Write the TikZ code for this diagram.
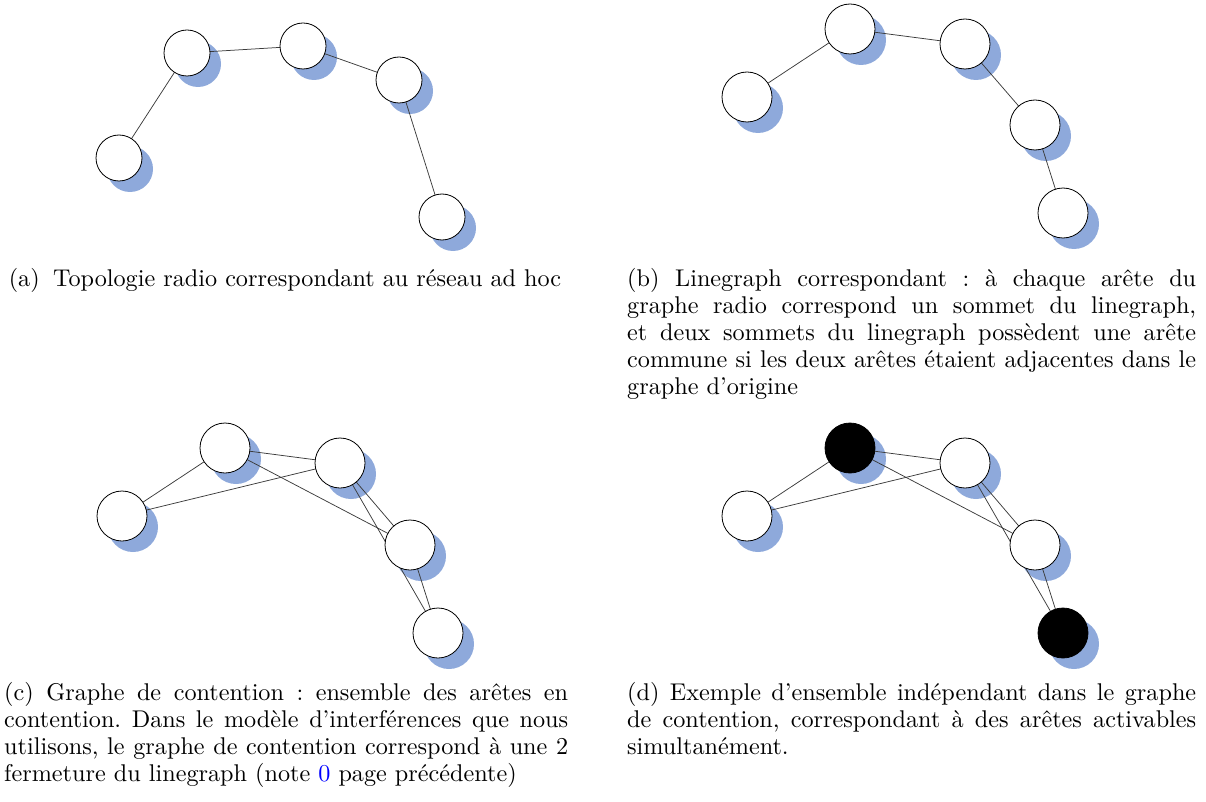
\documentclass[tikz,border=0pt]{standalone}
\usepackage{fontspec}
\setmainfont{lmroman10-regular.otf}
\usetikzlibrary{calc}
\definecolor{shadowblue}{RGB}{142,169,219}
\definecolor{edgegray}{RGB}{60,60,60}
\pgfdeclarelayer{shadow}
\pgfdeclarelayer{edges}
\pgfsetlayers{shadow,edges,main}
\newcommand\capfont{\fontsize{24.2}{27}\selectfont\frenchspacing}
% name, x, y, radius, fill
\newcommand\vx[5]{%
  \node[vtx, minimum size=#4*2pt, fill=#5] (#1) at (#2,#3) {};
  \begin{pgfonlayer}{shadow}
    \fill[shadowblue] ([xshift=11pt,yshift=-11pt]#1.center) circle[radius=#4pt];
  \end{pgfonlayer}}
\newcommand\ed[2]{%
  \begin{pgfonlayer}{edges}\draw[edge] (#1.center) -- (#2.center);\end{pgfonlayer}}
\tikzset{
  vtx/.style={circle, draw=black, line width=0.8pt, inner sep=0pt},
  edge/.style={draw=edgegray, line width=0.75pt},
  captext/.style={inner sep=0pt, anchor=base west, align=left},
}
\begin{document}
\begin{tikzpicture}[x=1pt,y=-1pt]
\useasboundingbox (0,0) rectangle (1206,802);
% (a)
\vx{a1}{187}{53}{23}{white}
\vx{a2}{303}{46}{23}{white}
\vx{a3}{399}{80}{23}{white}
\vx{a4}{119}{158}{23}{white}
\vx{a5}{442}{217}{23}{white}
\ed{a4}{a1}\ed{a1}{a2}\ed{a2}{a3}\ed{a3}{a5}
% (b)
\vx{b1}{747}{97}{25}{white}
\vx{b2}{850}{29}{25}{white}
\vx{b3}{965}{44}{25}{white}
\vx{b4}{1035}{125}{25}{white}
\vx{b5}{1063}{213}{25}{white}
\ed{b1}{b2}\ed{b2}{b3}\ed{b3}{b4}\ed{b4}{b5}
% (c)
\vx{c1}{122}{516}{25}{white}
\vx{c2}{225}{448}{25}{white}
\vx{c3}{340}{463}{25}{white}
\vx{c4}{410}{545}{25}{white}
\vx{c5}{438}{633}{25}{white}
\ed{c1}{c2}\ed{c1}{c3}\ed{c2}{c3}\ed{c2}{c4}\ed{c3}{c4}\ed{c3}{c5}\ed{c4}{c5}
% (d)
\vx{d1}{747}{516}{25}{white}
\vx{d2}{850}{448}{25}{black}
\vx{d3}{965}{463}{25}{white}
\vx{d4}{1035}{545}{25}{white}
\vx{d5}{1063}{633}{25}{black}
\ed{d1}{d2}\ed{d1}{d3}\ed{d2}{d3}\ed{d2}{d4}\ed{d3}{d4}\ed{d3}{d5}\ed{d4}{d5}
% captions
\node[inner sep=0pt, anchor=base] (capa) at (285,286)
  {\capfont (a)\hspace{0.55em}Topologie radio correspondant au réseau ad hoc};
\node[captext] (capb) at (627,286) {\parbox[t]{569pt}{\capfont\hyphenpenalty=10000
  (b) Linegraph correspondant : à chaque arête du\linebreak
  graphe radio correspond un sommet du linegraph,\linebreak
  et deux sommets du linegraph possèdent une arête\linebreak
  commune si les deux arêtes étaient adjacentes dans le\linebreak
  graphe d'origine}};
\node[captext] (capc) at (4,700) {\parbox[t]{564pt}{\capfont\hyphenpenalty=10000
  (c) Graphe de contention : ensemble des arêtes en\linebreak
  contention. Dans le modèle d'interférences que nous\linebreak
  utilisons, le graphe de contention correspond à une 2\linebreak
  fermeture du linegraph (note \textcolor{blue}{0} page précédente)}};
\node[captext] (capd) at (627,700) {\parbox[t]{569pt}{\capfont\hyphenpenalty=10000
  (d) Exemple d'ensemble indépendant dans le graphe\linebreak
  de contention, correspondant à des arêtes activables\linebreak
  simultanément.}};
\end{tikzpicture}
\end{document}
